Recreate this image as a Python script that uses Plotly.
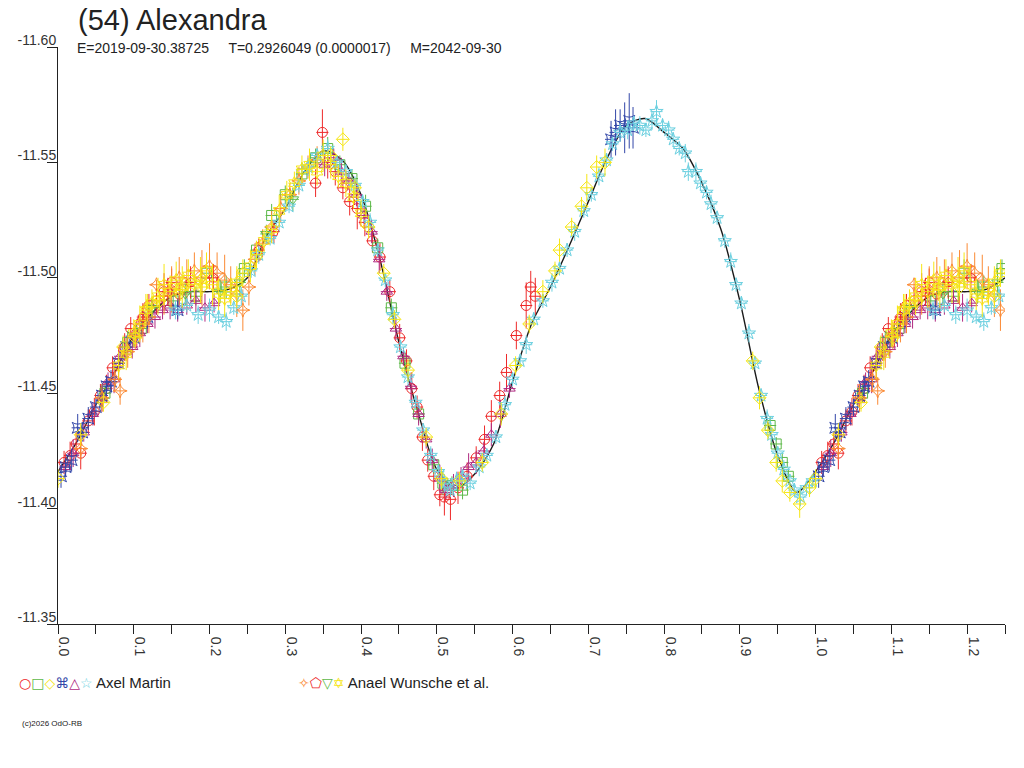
import plotly.graph_objects as go

TITLE = "(54) Alexandra"
SUBTITLE = "E=2019-09-30.38725\u00a0\u00a0\u00a0\u00a0\u00a0T=0.2926049 (0.0000017)\u00a0\u00a0\u00a0\u00a0\u00a0M=2042-09-30"
COPYRIGHT = "(c)2026 OdO-RB"
OBSERVER_1 = "Axel Martin"
OBSERVER_2 = "Anael Wunsche et al."

# Fourier fit of the lightcurve (phase 0..1)
FIT_PHASE = [0.000, 0.025, 0.050, 0.075, 0.100, 0.125, 0.150, 0.175, 0.200, 0.225,
             0.250, 0.275, 0.300, 0.325, 0.350, 0.375, 0.400, 0.425, 0.450, 0.475,
             0.500, 0.525, 0.550, 0.575, 0.600, 0.625, 0.650, 0.675, 0.700, 0.725,
             0.750, 0.775, 0.800, 0.825, 0.850, 0.875, 0.900, 0.925, 0.950, 0.975, 1.000]
FIT_MAG = [-11.416, -11.429, -11.445, -11.459, -11.475, -11.485, -11.492, -11.494, -11.494, -11.495,
           -11.500, -11.518, -11.530, -11.546, -11.555, -11.551, -11.536, -11.508, -11.472, -11.442,
           -11.417, -11.409, -11.415, -11.428, -11.455, -11.480, -11.496, -11.514, -11.533, -11.552,
           -11.566, -11.569, -11.563, -11.556, -11.541, -11.521, -11.490, -11.452, -11.423, -11.407, -11.416]

# Axel Martin sessions
AM1_PHASE = [0.008, 0.016, 0.024, 0.030, 0.040, 0.048, 0.056, 0.064, 0.072, 0.080,
             0.088, 0.096, 0.104, 0.112, 0.120, 0.130, 0.140, 0.150, 0.160,
             0.340, 0.349, 0.356, 0.366, 0.376, 0.385, 0.395, 0.405, 0.415, 0.425,
             0.438, 0.451, 0.460, 0.467, 0.474, 0.481, 0.488, 0.496, 0.504, 0.510,
             0.518, 0.528, 0.540, 0.552, 0.563, 0.572, 0.583, 0.592, 0.605, 0.618,
             0.624, 0.630]
AM1_MAG = [-11.420, -11.423, -11.428, -11.424, -11.438, -11.442, -11.449, -11.452, -11.461, -11.463,
           -11.470, -11.478, -11.476, -11.482, -11.488, -11.490, -11.494, -11.498, -11.493,
           -11.541, -11.563, -11.550, -11.546, -11.539, -11.533, -11.530, -11.524, -11.516, -11.509,
           -11.494, -11.474, -11.464, -11.452, -11.444, -11.431, -11.421, -11.414, -11.406, -11.405,
           -11.404, -11.409, -11.414, -11.422, -11.430, -11.440, -11.449, -11.459, -11.475, -11.488,
           -11.496, -11.492]
AM1_ERR = [0.005, 0.006, 0.005, 0.007, 0.005, 0.006, 0.005, 0.006, 0.005, 0.007,
           0.006, 0.005, 0.006, 0.007, 0.005, 0.006, 0.008, 0.006, 0.005,
           0.006, 0.010, 0.007, 0.006, 0.005, 0.006, 0.009, 0.006, 0.005, 0.006,
           0.005, 0.006, 0.005, 0.007, 0.005, 0.006, 0.005, 0.006, 0.005, 0.008,
           0.009, 0.007, 0.006, 0.005, 0.006, 0.007, 0.006, 0.008, 0.006, 0.010,
           0.007, 0.008]

AM2_PHASE = [0.062, 0.092, 0.110, 0.152, 0.182, 0.196, 0.222, 0.246, 0.262, 0.282,
             0.300, 0.322, 0.340, 0.356, 0.372, 0.388, 0.406, 0.422, 0.440, 0.458,
             0.476, 0.496, 0.508, 0.520, 0.534, 0.940, 0.948, 0.956, 0.964]
AM2_MAG = [-11.450, -11.472, -11.478, -11.490, -11.492, -11.502, -11.496, -11.504, -11.512, -11.527,
           -11.536, -11.545, -11.552, -11.556, -11.549, -11.543, -11.531, -11.513, -11.487, -11.463,
           -11.441, -11.419, -11.411, -11.410, -11.408, -11.436, -11.428, -11.420, -11.414]
AM2_ERR = [0.004, 0.005, 0.004, 0.005, 0.004, 0.006, 0.005, 0.004, 0.004, 0.005,
           0.004, 0.005, 0.004, 0.005, 0.004, 0.004, 0.005, 0.004, 0.004, 0.005,
           0.004, 0.004, 0.005, 0.004, 0.004, 0.004, 0.003, 0.004, 0.003]

AM3_PHASE = [0.000, 0.030, 0.060, 0.086, 0.102, 0.118, 0.134, 0.162, 0.190, 0.236,
             0.360, 0.376, 0.392, 0.410, 0.430, 0.444, 0.462, 0.486, 0.506, 0.530,
             0.560, 0.585, 0.604, 0.622, 0.640, 0.656, 0.662, 0.678, 0.691, 0.698, 0.711, 0.722,
             0.917, 0.926, 0.937, 0.948, 0.956, 0.966, 0.979, 0.992]
AM3_MAG = [-11.413, -11.432, -11.446, -11.470, -11.474, -11.487, -11.490, -11.495, -11.496, -11.492,
           -11.553, -11.560, -11.539, -11.522, -11.502, -11.482, -11.460, -11.431, -11.413, -11.412,
           -11.420, -11.441, -11.462, -11.480, -11.494, -11.503, -11.512, -11.522, -11.531, -11.539, -11.548, -11.550,
           -11.464, -11.448, -11.434, -11.420, -11.412, -11.407, -11.402, -11.409]
AM3_ERR = [0.004, 0.005, 0.004, 0.005, 0.004, 0.006, 0.004, 0.005, 0.004, 0.005,
           0.004, 0.005, 0.004, 0.005, 0.004, 0.004, 0.005, 0.004, 0.005, 0.004,
           0.004, 0.005, 0.004, 0.004, 0.005, 0.004, 0.005, 0.004, 0.004, 0.006, 0.005, 0.006,
           0.004, 0.005, 0.004, 0.004, 0.005, 0.004, 0.006, 0.004]

AM4_PHASE = [0.004, 0.010, 0.018, 0.026, 0.032, 0.040, 0.050, 0.058, 0.064, 0.070,
             0.080, 0.090, 0.100, 0.118, 0.158, 0.730, 0.736, 0.742, 0.748, 0.754, 0.759]
AM4_MAG = [-11.414, -11.418, -11.421, -11.435, -11.433, -11.439, -11.444, -11.449, -11.453, -11.455,
           -11.463, -11.470, -11.474, -11.483, -11.486, -11.560, -11.563, -11.566, -11.565, -11.568, -11.565]
AM4_ERR = [0.005, 0.004, 0.005, 0.006, 0.004, 0.005, 0.004, 0.005, 0.004, 0.005,
           0.004, 0.005, 0.004, 0.005, 0.004, 0.008, 0.010, 0.007, 0.011, 0.012, 0.009]

AM5_PHASE = [0.010, 0.020, 0.034, 0.046, 0.058, 0.066, 0.074, 0.082, 0.090, 0.098,
             0.108, 0.118, 0.128, 0.138, 0.148, 0.158, 0.170, 0.182, 0.194, 0.206,
             0.352, 0.364, 0.374, 0.384, 0.394, 0.404, 0.414, 0.424, 0.434, 0.446,
             0.456, 0.466, 0.476, 0.486, 0.494, 0.504, 0.512, 0.522, 0.532, 0.542,
             0.552, 0.562, 0.572, 0.584, 0.596]
AM5_MAG = [-11.418, -11.424, -11.433, -11.441, -11.447, -11.455, -11.456, -11.466, -11.468, -11.470,
           -11.476, -11.480, -11.483, -11.486, -11.488, -11.486, -11.488, -11.490, -11.487, -11.489,
           -11.549, -11.552, -11.546, -11.542, -11.536, -11.527, -11.520, -11.508, -11.494, -11.478,
           -11.466, -11.453, -11.441, -11.430, -11.421, -11.413, -11.408, -11.410, -11.414, -11.418,
           -11.420, -11.425, -11.432, -11.441, -11.452]
AM5_ERR = [0.004, 0.006, 0.004, 0.005, 0.005, 0.004, 0.006, 0.005, 0.004, 0.005,
           0.006, 0.004, 0.005, 0.004, 0.006, 0.005, 0.004, 0.005, 0.006, 0.004,
           0.005, 0.004, 0.006, 0.004, 0.005, 0.004, 0.005, 0.006, 0.004, 0.005,
           0.004, 0.006, 0.005, 0.004, 0.005, 0.006, 0.004, 0.005, 0.004, 0.006,
           0.005, 0.004, 0.005, 0.006, 0.004]

AM6_PHASE = [0.155, 0.170, 0.185, 0.200, 0.212, 0.222, 0.232, 0.242, 0.255, 0.265,
             0.280, 0.292, 0.305, 0.318, 0.330, 0.342, 0.356, 0.368, 0.380, 0.392,
             0.402, 0.412, 0.422, 0.432, 0.442, 0.452, 0.462, 0.472, 0.482, 0.492,
             0.502, 0.510, 0.518, 0.526, 0.534, 0.544, 0.556, 0.566, 0.578, 0.590,
             0.600, 0.610, 0.618, 0.628, 0.640, 0.652, 0.662, 0.672, 0.682, 0.694,
             0.704, 0.714, 0.724, 0.732, 0.742, 0.752, 0.760, 0.768, 0.776, 0.784,
             0.790, 0.798, 0.806, 0.812, 0.820, 0.828, 0.832, 0.842, 0.848, 0.856,
             0.862, 0.870, 0.880, 0.888, 0.895, 0.902, 0.912, 0.920, 0.928, 0.936,
             0.942, 0.950, 0.958, 0.966, 0.972, 0.980, 0.988, 0.996]
AM6_MAG = [-11.486, -11.488, -11.484, -11.486, -11.483, -11.481, -11.487, -11.492, -11.503, -11.510,
           -11.517, -11.524, -11.531, -11.540, -11.548, -11.553, -11.556, -11.550, -11.546, -11.540,
           -11.533, -11.524, -11.512, -11.499, -11.484, -11.470, -11.457, -11.446, -11.434, -11.423,
           -11.416, -11.411, -11.408, -11.412, -11.414, -11.411, -11.418, -11.423, -11.431, -11.445,
           -11.456, -11.464, -11.471, -11.482, -11.490, -11.498, -11.504, -11.512, -11.520, -11.529,
           -11.536, -11.544, -11.551, -11.558, -11.563, -11.564, -11.567, -11.566, -11.564, -11.568,
           -11.572, -11.566, -11.564, -11.560, -11.556, -11.554, -11.546, -11.546, -11.541, -11.537,
           -11.532, -11.526, -11.516, -11.507, -11.497, -11.489, -11.476, -11.463, -11.449, -11.439,
           -11.432, -11.424, -11.417, -11.412, -11.408, -11.405, -11.409, -11.412]
AM6_ERR = [0.004, 0.003, 0.004, 0.005, 0.003, 0.004, 0.003, 0.004, 0.003, 0.004,
           0.003, 0.004, 0.003, 0.003, 0.004, 0.003, 0.004, 0.003, 0.003, 0.004,
           0.003, 0.004, 0.003, 0.003, 0.004, 0.003, 0.004, 0.003, 0.003, 0.004,
           0.003, 0.004, 0.003, 0.004, 0.003, 0.003, 0.004, 0.003, 0.003, 0.004,
           0.003, 0.003, 0.004, 0.003, 0.003, 0.004, 0.003, 0.003, 0.004, 0.003,
           0.003, 0.004, 0.003, 0.003, 0.004, 0.004, 0.003, 0.004, 0.003, 0.004,
           0.005, 0.003, 0.004, 0.003, 0.003, 0.004, 0.004, 0.004, 0.003, 0.003,
           0.004, 0.003, 0.003, 0.004, 0.003, 0.003, 0.004, 0.003, 0.003, 0.004,
           0.003, 0.003, 0.004, 0.003, 0.003, 0.004, 0.003, 0.003]

# Anael Wunsche et al. sessions
AW1_PHASE = [0.030, 0.058, 0.075, 0.082, 0.092, 0.102, 0.112, 0.120, 0.130, 0.140,
             0.150, 0.160, 0.170, 0.180, 0.190, 0.200, 0.210, 0.220, 0.228, 0.236,
             0.244, 0.252, 0.260, 0.270, 0.282, 0.294, 0.306, 0.318, 0.330, 0.342]
AW1_MAG = [-11.426, -11.448, -11.456, -11.451, -11.468, -11.475, -11.480, -11.483, -11.497, -11.492,
           -11.495, -11.500, -11.497, -11.503, -11.500, -11.505, -11.502, -11.499, -11.497, -11.493,
           -11.486, -11.496, -11.508, -11.515, -11.522, -11.530, -11.536, -11.542, -11.548, -11.551]
AW1_ERR = [0.005, 0.006, 0.005, 0.006, 0.007, 0.006, 0.008, 0.007, 0.002, 0.008,
           0.010, 0.009, 0.011, 0.008, 0.012, 0.010, 0.009, 0.011, 0.008, 0.010,
           0.009, 0.008, 0.007, 0.006, 0.007, 0.006, 0.005, 0.006, 0.005, 0.006]

AW2_PHASE = [0.112, 0.145, 0.175, 0.205, 0.265, 0.285]
AW2_MAG = [-11.483, -11.494, -11.498, -11.500, -11.512, -11.520]
AW2_ERR = [0.005, 0.006, 0.007, 0.006, 0.005, 0.005]

AW3_PHASE = [0.124, 0.168, 0.214, 0.240, 0.275, 0.310]
AW3_MAG = [-11.487, -11.493, -11.494, -11.498, -11.519, -11.534]
AW3_ERR = [0.004, 0.005, 0.005, 0.006, 0.004, 0.005]

AW4_PHASE = [0.080, 0.090, 0.100, 0.108, 0.116, 0.124, 0.132, 0.140, 0.148, 0.156,
             0.164, 0.172, 0.180, 0.188, 0.196, 0.204, 0.212, 0.220, 0.228, 0.236,
             0.244, 0.254, 0.262, 0.272, 0.282, 0.292, 0.302, 0.312, 0.322, 0.332,
             0.342, 0.350, 0.360, 0.370, 0.380, 0.390, 0.400]
AW4_MAG = [-11.462, -11.467, -11.476, -11.480, -11.486, -11.489, -11.492, -11.497, -11.494, -11.499,
           -11.496, -11.501, -11.497, -11.499, -11.503, -11.497, -11.493, -11.491, -11.494, -11.498,
           -11.502, -11.505, -11.510, -11.516, -11.521, -11.529, -11.536, -11.541, -11.547, -11.549,
           -11.546, -11.553, -11.549, -11.544, -11.541, -11.535, -11.528]
AW4_ERR = [0.006, 0.007, 0.006, 0.008, 0.007, 0.006, 0.008, 0.009, 0.007, 0.008,
           0.009, 0.007, 0.008, 0.010, 0.008, 0.009, 0.007, 0.008, 0.006, 0.007,
           0.006, 0.007, 0.006, 0.005, 0.006, 0.007, 0.006, 0.005, 0.006, 0.007,
           0.006, 0.007, 0.006, 0.005, 0.006, 0.005, 0.006]

X_TICKS = [0.0, 0.1, 0.2, 0.3, 0.4, 0.5, 0.6, 0.7, 0.8, 0.9, 1.0, 1.1, 1.2]
Y_TICKS = [-11.60, -11.55, -11.50, -11.45, -11.40, -11.35]

WRAP_LIMIT = 0.25

RED, GREEN, YELLOW, BLUE, PURPLE, CYAN, ORANGE = (
    "#ee2a2a", "#5cb848", "#f6e614", "#3347a8", "#b02a82", "#6cd0e0", "#fb8a34")

SERIES = [
    (AM1_PHASE, AM1_MAG, AM1_ERR, "circle-open", RED),
    (AM2_PHASE, AM2_MAG, AM2_ERR, "square-open", GREEN),
    (AM5_PHASE, AM5_MAG, AM5_ERR, "triangle-up-open", PURPLE),
    (AM4_PHASE, AM4_MAG, AM4_ERR, "star-square-open", BLUE),
    (AW1_PHASE, AW1_MAG, AW1_ERR, "star-diamond-open", ORANGE),
    (AW2_PHASE, AW2_MAG, AW2_ERR, "pentagon-open", RED),
    (AW3_PHASE, AW3_MAG, AW3_ERR, "triangle-down-open", GREEN),
    (AM6_PHASE, AM6_MAG, AM6_ERR, "star-open", CYAN),
    (AW4_PHASE, AW4_MAG, AW4_ERR, "hexagram-open", YELLOW),
    (AM3_PHASE, AM3_MAG, AM3_ERR, "diamond-open", YELLOW),
]


def wrap(phases, *cols):
    """Repeat points of phase <= WRAP_LIMIT one cycle later."""
    out_p = list(phases)
    outs = [list(c) for c in cols]
    for i, p in enumerate(phases):
        if p <= WRAP_LIMIT:
            out_p.append(p + 1.0)
            for o, c in zip(outs, cols):
                o.append(c[i])
    return (out_p, *outs)


fig = go.Figure()

fp, fm = wrap(FIT_PHASE[:-1], FIT_MAG[:-1])
order = sorted(range(len(fp)), key=lambda i: fp[i])
fig.add_trace(go.Scatter(
    x=[fp[i] for i in order], y=[fm[i] for i in order], mode="lines",
    line=dict(color="#1a1a1a", width=1.4, shape="spline", smoothing=0.8),
    hoverinfo="skip", showlegend=False))

for ph, mg, er, sym, col in SERIES:
    assert len(ph) == len(mg) == len(er)
    p, m, e = wrap(ph, mg, er)
    fig.add_trace(go.Scatter(
        x=p, y=m, mode="markers",
        marker=dict(symbol=sym, size=10, color=col, line=dict(color=col, width=1)),
        error_y=dict(type="data", array=e, visible=True, color=col, thickness=1, width=0),
        error_x=dict(type="constant", value=0.008, visible=True, color=col, thickness=1, width=0),
        showlegend=False))

FONT = "Liberation Sans, Arial, sans-serif"
SYMF = "DejaVu Sans"


def glyph(ch, col):
    return f"<span style='color:{col};font-family:{SYMF};font-size:14px'>{ch}</span>"


legend1 = (glyph("\u25cb", RED) + glyph("\u25a1", GREEN) + glyph("\u25c7", YELLOW) +
           glyph("\u2318", BLUE) + glyph("\u25b3", PURPLE) + glyph("\u2606", CYAN) + " " + OBSERVER_1)
legend2 = (glyph("\u2727", ORANGE) + glyph("\u2b20", RED) + glyph("\u25bd", GREEN) +
           glyph("\u2721", YELLOW) + " " + OBSERVER_2)

annotations = [
    dict(text=TITLE, x=0.019, y=1.047, xref="paper", yref="paper", xanchor="left", yanchor="middle",
         showarrow=False, font=dict(family=FONT, size=29, color="#222222")),
    dict(text=SUBTITLE, x=0.018, y=0.998, xref="paper", yref="paper", xanchor="left", yanchor="middle",
         showarrow=False, font=dict(family=FONT, size=14, color="#222222")),
    dict(text=legend1, x=-0.043, y=-0.102, xref="paper", yref="paper", xanchor="left", yanchor="middle",
         showarrow=False, font=dict(family=FONT, size=15, color="#222222")),
    dict(text=legend2, x=0.251, y=-0.102, xref="paper", yref="paper", xanchor="left", yanchor="middle",
         showarrow=False, font=dict(family=FONT, size=15, color="#222222")),
    dict(text=COPYRIGHT, x=-0.040, y=-0.172, xref="paper", yref="paper", xanchor="left", yanchor="middle",
         showarrow=False, font=dict(family=FONT, size=8, color="#222222")),
]

fig.update_layout(
    width=1024, height=768,
    margin=dict(l=58, r=19, t=47, b=144, autoexpand=False),
    paper_bgcolor="white", plot_bgcolor="white",
    showlegend=False,
    annotations=annotations,
    font=dict(family=FONT, color="#333333"),
    xaxis=dict(range=[0, 1.25], tickvals=X_TICKS, ticktext=[f"{v:.1f}" for v in X_TICKS],
               tickangle=90, ticks="outside", ticklen=9, tickcolor="#222222",
               minor=dict(dtick=0.05, tick0=0, ticks="outside", ticklen=9, tickcolor="#222222"),
               showline=True, linecolor="#222222", linewidth=1, showgrid=False, zeroline=False,
               tickfont=dict(size=14, color="#333333"), ticklabelshift=6, automargin=False),
    yaxis=dict(range=[-11.35, -11.60], tickvals=Y_TICKS, ticktext=[f"{v:.2f}" for v in Y_TICKS],
               ticks="outside", ticklen=10, tickcolor="#222222",
               showline=True, linecolor="#222222", linewidth=1, showgrid=False, zeroline=False,
               tickfont=dict(size=14, color="#333333"), ticklabelshift=7, ticklabelstandoff=-12,
               automargin=False),
)

fig.write_html("out.html", config={"displayModeBar": False},
               post_script="document.body.style.margin='0';document.body.style.overflow='hidden';")
